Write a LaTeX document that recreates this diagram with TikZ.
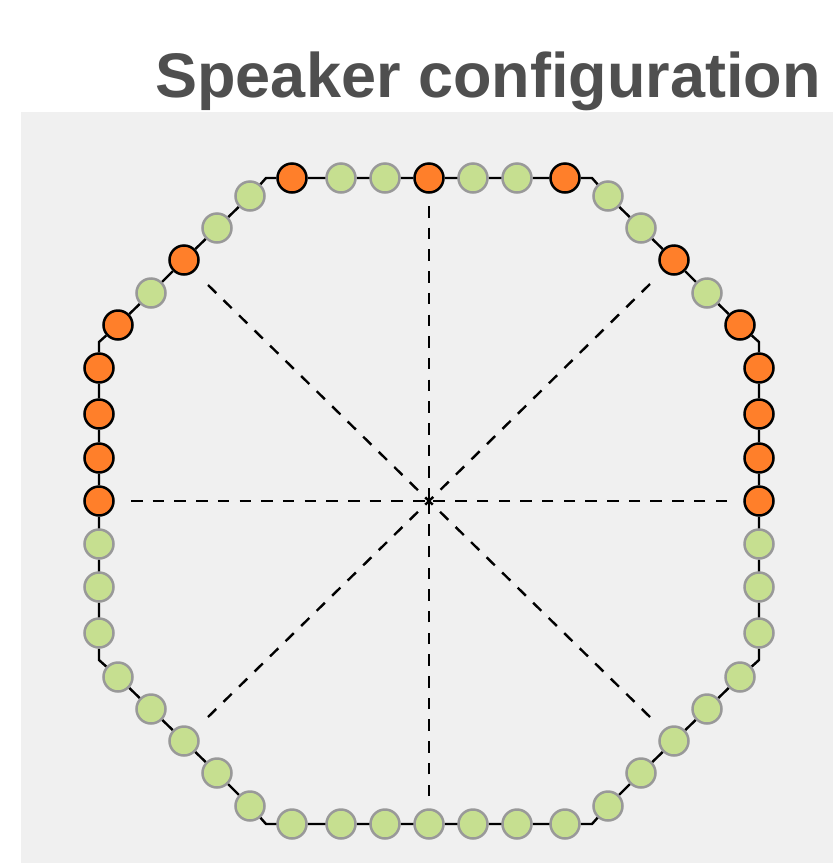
\documentclass[tikz,border=0pt]{standalone}
\usepackage{fontspec}
\setmainfont{Liberation Sans}
\definecolor{panelgray}{HTML}{F0F0F0}
\definecolor{titlegray}{HTML}{4F4F4F}
\definecolor{spkorange}{HTML}{FF7F2A}
\definecolor{spkgreen}{HTML}{C6DF90}
\definecolor{spkedge}{HTML}{999999}
\tikzset{
  spko/.style={circle, draw=black, line width=2.5pt, fill=spkorange, minimum size=29pt, inner sep=0pt},
  spkg/.style={circle, draw=spkedge, line width=2.5pt, fill=spkgreen, minimum size=29pt, inner sep=0pt},
  ring/.style={draw=black, line width=2.4pt},
  spoke/.style={draw=black, line width=2.4pt, dash pattern=on 11.5pt off 10.2pt},
  titletext/.style={text=titlegray, font=\fontsize{63}{63}\selectfont\bfseries, inner sep=0pt, anchor=base}
}
\begin{document}
\begin{tikzpicture}[x=1pt,y=-1pt]
\useasboundingbox (0,0) rectangle (833,863);
\fill[panelgray] (21,112) rectangle (833,863);
\node[titletext] (title) at (488,97) {Speaker configuration};
% corners of the octagon
\coordinate (k1) at (592,178);
\coordinate (k2) at (759,342);
\coordinate (k3) at (759,660);
\coordinate (k4) at (592,824);
\coordinate (k5) at (266,824);
\coordinate (k6) at (99,660);
\coordinate (k7) at (99,342);
\coordinate (k8) at (266,178);
% spoke ends
\coordinate (c) at (429,501);
\coordinate (d1) at (429,206);
\coordinate (d2) at (650,284);
\coordinate (d3) at (727,501);
\coordinate (d4) at (650,717);
\coordinate (d5) at (429,796);
\coordinate (d6) at (208,717);
\coordinate (d7) at (131,501);
\coordinate (d8) at (208,285);
\foreach \e in {d1,d2,d3,d4,d5,d6,d7,d8} \draw[spoke] (\e) -- (c);
% speakers
\foreach \n/\x/\y/\s in {
 1/292/178/spko, 2/341/178/spkg, 3/385/178/spkg, 4/429/178/spko, 5/473/178/spkg, 6/517/178/spkg, 7/565/178/spko,
 8/608/196/spkg, 9/641/228/spkg, 10/674/260/spko, 11/707/293/spkg, 12/740/325/spko,
 13/759/368/spko, 14/759/414/spko, 15/759/458/spko, 16/759/501/spko, 17/759/544/spkg, 18/759/587/spkg, 19/759/633/spkg,
 20/740/677/spkg, 21/707/709/spkg, 22/674/741/spkg, 23/641/773/spkg, 24/608/806/spkg,
 25/565/824/spkg, 26/517/824/spkg, 27/473/824/spkg, 28/429/824/spkg, 29/385/824/spkg, 30/341/824/spkg, 31/292/824/spkg,
 32/250/806/spkg, 33/217/773/spkg, 34/184/741/spkg, 35/151/709/spkg, 36/118/677/spkg,
 37/99/633/spkg, 38/99/587/spkg, 39/99/544/spkg, 40/99/501/spko, 41/99/458/spko, 42/99/414/spko, 43/99/368/spko,
 44/118/325/spko, 45/151/293/spkg, 46/184/260/spko, 47/217/228/spkg, 48/250/196/spkg}
 \node[\s] (s\n) at (\x,\y) {};
% ring connectors
\draw[ring] (s1) -- (s2) -- (s3) -- (s4) -- (s5) -- (s6) -- (s7) -- (k1) -- (s8) -- (s9) -- (s10) -- (s11) -- (s12) -- (k2)
 -- (s13) -- (s14) -- (s15) -- (s16) -- (s17) -- (s18) -- (s19) -- (k3) -- (s20) -- (s21) -- (s22) -- (s23) -- (s24) -- (k4)
 -- (s25) -- (s26) -- (s27) -- (s28) -- (s29) -- (s30) -- (s31) -- (k5) -- (s32) -- (s33) -- (s34) -- (s35) -- (s36) -- (k6)
 -- (s37) -- (s38) -- (s39) -- (s40) -- (s41) -- (s42) -- (s43) -- (k7) -- (s44) -- (s45) -- (s46) -- (s47) -- (s48) -- (k8) -- (s1);
\end{tikzpicture}
\end{document}
